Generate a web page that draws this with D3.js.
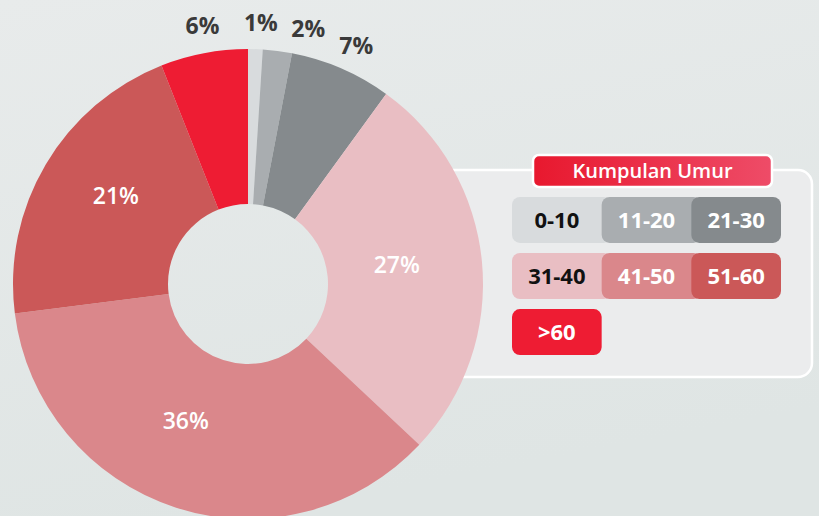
<!DOCTYPE html>
<html><head><meta charset="utf-8">
<script src="https://cdn.jsdelivr.net/npm/d3@7"></script>
<style>html,body{margin:0;padding:0;background:#e3e8e8;}svg{display:block;}</style>
</head><body>
<svg id="c" width="819" height="516"></svg>
<script>
const categories = ["0-10","11-20","21-30","31-40","41-50","51-60",">60"];
const values = [1,2,7,27,36,21,6];
const colors = ["#d8dbdd","#a9adb0","#858a8d","#e9bec3","#da878b","#cb5858","#ee1c33"];
const legendTextColors = ["#111","#fff","#fff","#111","#fff","#fff","#fff"];
const legendTitle = "Kumpulan Umur";

const svg = d3.select("#c");
const defs = svg.append("defs");
const bg = defs.append("linearGradient").attr("id","bg").attr("x1","0").attr("y1","0").attr("x2","0.3").attr("y2","1");
bg.append("stop").attr("offset","0").attr("stop-color","#e8ebeb");
bg.append("stop").attr("offset","1").attr("stop-color","#dfe5e4");
const tg = defs.append("linearGradient").attr("id","tg").attr("x1","0").attr("y1","0").attr("x2","1").attr("y2","0");
tg.append("stop").attr("offset","0").attr("stop-color","#e8182e");
tg.append("stop").attr("offset","1").attr("stop-color","#ee4c68");
svg.append("rect").attr("width",819).attr("height",516).attr("fill","url(#bg)");

// legend box (behind pie)
svg.append("rect").attr("x",420).attr("y",170).attr("width",392).attr("height",207)
  .attr("rx",14).attr("fill","#ebeced").attr("stroke","#ffffff").attr("stroke-width",2.5);

const cx = 248, cy = 284, R = 235, r0 = 80;
const pie = d3.pie().sort(null).value(d => d)(values);
const arc = d3.arc().innerRadius(r0).outerRadius(R);
const g = svg.append("g").attr("transform",`translate(${cx},${cy})`);
g.selectAll("path").data(pie).join("path").attr("d",arc).attr("fill",(d,i)=>colors[i]);

const font = "'Open Sans', 'Noto Sans', sans-serif";

// label layout: inside for big slices (small angular nudges), outside spread apart for small ones
const deg = Math.PI/180;
const insideNudge = {"31-40": [-2, 150], "41-50": [6.5, 150], "51-60": [3.2, 159]};
let prevA = -Infinity;
pie.forEach((d,i) => {
  const mid = (d.startAngle + d.endAngle)/2;
  if (d.data >= 10) {
    const n = insideNudge[categories[i]] || [0, 152];
    const a = mid + n[0]*deg;
    d.lx = Math.sin(a)*n[1]; d.ly = -Math.cos(a)*n[1]; d.inside = true;
  } else {
    let a = mid;
    if (mid < Math.PI) { a = Math.max(mid + 1*deg, prevA + 10.5*deg); prevA = a; }
    else { a = mid + 0.8*deg; }
    const rr = 262;
    d.lx = Math.sin(a)*rr; d.ly = -Math.cos(a)*rr; d.inside = false;
  }
});
g.selectAll("text.l").data(pie).join("text").attr("class","l")
  .attr("x",d=>d.lx).attr("y",d=>d.ly)
  .attr("text-anchor","middle").attr("dy","0.36em")
  .attr("font-family",font).attr("font-weight",d=>d.inside?600:700)
  .attr("font-size",23)
  .attr("fill",d=>d.inside?"#ffffff":"#3a3a3a")
  .text(d=>d.data+"%");

// legend title
svg.append("rect").attr("x",533).attr("y",155).attr("width",239).attr("height",32).attr("rx",6)
  .attr("fill","url(#tg)").attr("stroke","#fff").attr("stroke-width",2.5);
svg.append("text").attr("x",652.5).attr("y",171).attr("dy","0.36em").attr("text-anchor","middle")
  .attr("font-family",font).attr("font-weight",600).attr("font-size",20).attr("fill","#fff").text(legendTitle);

// legend cells
const colX = d3.scaleBand().domain([0,1,2]).range([512,781]).paddingInner(0);
const rowY = d3.scaleBand().domain([0,1,2]).range([197,355]).paddingInner(0.18);
const cells = svg.append("g");
categories.forEach((c,i)=>{
  const col = i%3, row = Math.floor(i/3);
  const x = colX(col), y = rowY(row);
  const w = colX.bandwidth() + ((col<2 && i<categories.length-1) ? 10 : 0);
  cells.append("rect").attr("x",x).attr("y",y).attr("width",w).attr("height",rowY.bandwidth())
    .attr("rx",8).attr("fill",colors[i]);
  cells.append("text").attr("x",x+colX.bandwidth()/2).attr("y",y+rowY.bandwidth()/2).attr("dy","0.36em")
    .attr("text-anchor","middle").attr("font-family",font).attr("font-weight",700).attr("font-size",22)
    .attr("fill",legendTextColors[i]).text(c);
});
</script>
</body></html>
